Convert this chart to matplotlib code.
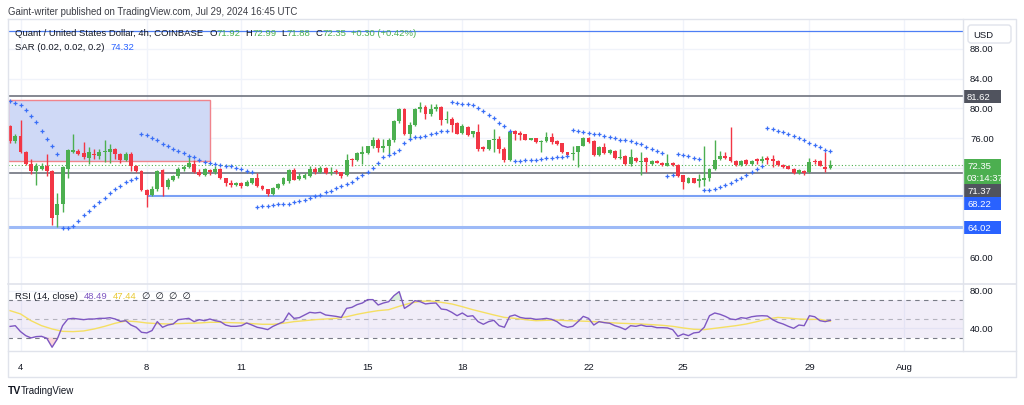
import numpy as np
import matplotlib.pyplot as plt
from matplotlib.patches import Rectangle, FancyBboxPatch

plt.rcParams['font.family'] = ['Liberation Sans', 'DejaVu Sans']

W, H = 1024, 406
GREEN = '#4caf50'
RED = '#f23645'
BLUE = '#2962ff'
DARK = '#131722'
GRID = '#f0f3fa'
FRAME = '#e0e3eb'

# 4h candles, index 0 = Jul 3 16:00 UTC, last = Jul 29 16:00 UTC
opens = [77.6, 75.6, 76.3, 74.2, 72.5, 71.6, 71.9, 72.2, 71.6, 65.6,
         67.1, 71.8, 74.1, 74.3, 74.0, 73.3, 73.9, 73.6, 74.1, 74.1,
         74.6, 73.9, 73.1, 73.8, 72.2, 71.6, 69.0, 68.4, 69.2, 71.7,
         69.4, 70.4, 70.9, 71.8, 72.1, 72.5, 71.5, 71.1, 71.7, 71.4,
         71.8, 70.6, 69.9, 69.7, 69.9, 69.6, 69.9, 70.6, 69.5, 69.1,
         68.5, 69.3, 69.8, 70.2, 71.7, 70.5, 70.6, 70.9, 71.9, 71.4,
         72.0, 71.3, 71.6, 71.4, 71.0, 73.2, 73.0, 73.9, 74.0, 74.9,
         75.7, 74.7, 74.9, 75.7, 78.3, 79.9, 76.6, 77.8, 79.9, 80.2,
         79.2, 79.9, 80.2, 78.4, 78.6, 78.0, 76.7, 77.5, 76.6, 76.8,
         74.8, 74.5, 75.7, 75.9, 74.6, 73.0, 76.9, 76.7, 76.5, 75.8,
         75.97, 75.5, 75.66, 76.1, 75.6, 75.3, 74.1, 73.9, 74.1, 75.0,
         76.0, 75.6, 73.7, 74.8, 74.0, 74.3, 73.3, 73.55, 72.5, 73.3,
         72.8, 73.3, 72.5, 72.9, 72.7, 72.3, 72.7, 72.4, 71.0, 70.0,
         70.6, 70.27, 70.3, 70.6, 71.84, 73.2, 73.6, 73.4, 72.9, 72.4,
         73.1, 72.5, 73.2, 72.96, 73.3, 73.2, 72.96, 72.4, 72.2, 71.9,
         71.3, 71.6, 71.4, 72.9, 72.96, 72.1, 71.92]
highs = [77.8, 76.5, 78.4, 74.3, 73.2, 72.6, 72.6, 73.9, 71.7, 68.6,
         72.3, 74.5, 76.6, 74.6, 75.5, 74.8, 74.6, 74.5, 75.7, 75.2,
         74.7, 74.0, 74.1, 74.2, 72.4, 71.7, 69.2, 69.5, 71.7, 71.8,
         70.6, 71.0, 72.1, 72.4, 73.6, 73.0, 71.8, 72.0, 71.9, 72.3,
         72.0, 70.7, 70.3, 70.1, 70.1, 70.3, 70.7, 71.3, 69.7, 69.2,
         69.4, 70.0, 70.8, 71.9, 72.0, 71.3, 71.3, 72.2, 72.1, 72.3,
         72.1, 72.1, 71.9, 71.5, 73.9, 73.3, 74.1, 75.0, 75.0, 76.1,
         76.0, 75.9, 76.0, 78.5, 80.1, 80.0, 78.2, 80.0, 80.8, 80.4,
         80.6, 80.6, 80.3, 79.6, 78.8, 78.2, 77.9, 77.6, 77.0, 77.9,
         75.0, 75.8, 77.2, 76.3, 74.8, 77.0, 77.1, 76.9, 76.6, 76.0,
         76.0, 75.7, 76.8, 76.7, 75.7, 75.4, 74.2, 75.0, 75.0, 76.1,
         76.1, 75.7, 74.9, 75.4, 74.5, 74.4, 74.5, 73.7, 74.5, 73.4,
         74.2, 73.4, 73.0, 73.0, 72.8, 73.8, 72.8, 72.5, 71.1, 70.8,
         70.7, 71.2, 74.9, 72.0, 75.8, 74.3, 74.1, 77.5, 73.0, 73.0,
         73.2, 73.0, 73.3, 73.6, 73.6, 73.7, 73.0, 72.5, 72.3, 72.0,
         71.8, 71.7, 73.3, 73.2, 73.0, 74.2, 72.99]
lows = [75.3, 75.4, 74.0, 72.4, 71.2, 69.7, 71.7, 70.9, 64.3, 64.02,
        66.0, 70.6, 74.0, 73.7, 73.2, 72.5, 73.2, 73.2, 72.8, 72.7,
        73.2, 72.6, 72.9, 71.6, 71.4, 68.9, 66.7, 68.2, 68.9, 68.25,
        69.1, 70.2, 70.6, 71.6, 72.0, 71.3, 70.9, 70.9, 71.0, 71.2,
        70.5, 69.6, 69.4, 69.6, 69.3, 69.5, 69.8, 69.4, 69.0, 68.2,
        68.4, 69.2, 69.7, 70.0, 70.3, 70.3, 70.5, 70.8, 71.2, 71.3,
        71.2, 71.0, 71.2, 70.7, 70.9, 72.2, 72.9, 72.5, 73.9, 74.7,
        74.1, 74.1, 73.9, 75.5, 78.0, 76.4, 75.9, 77.6, 79.5, 78.6,
        79.0, 79.7, 77.8, 78.0, 76.8, 76.5, 76.6, 76.3, 76.2, 74.3,
        74.3, 74.4, 74.1, 74.0, 72.8, 72.9, 75.8, 75.8, 75.7, 75.7,
        75.4, 74.2, 75.5, 75.2, 75.1, 74.0, 73.6, 73.0, 72.1, 74.9,
        75.4, 73.6, 73.6, 73.9, 73.9, 73.2, 73.2, 72.4, 72.3, 72.8,
        71.0, 71.4, 72.4, 72.6, 72.3, 72.2, 72.3, 70.8, 69.15, 69.9,
        69.9, 69.4, 69.5, 70.2, 71.7, 73.1, 73.2, 72.8, 72.3, 72.3,
        72.4, 72.4, 72.5, 72.7, 72.5, 72.1, 72.3, 72.0, 71.8, 71.2,
        71.2, 71.0, 71.3, 72.5, 72.2, 71.4, 71.88]
closes = [75.6, 76.3, 74.2, 72.5, 71.6, 72.2, 72.3, 71.6, 65.3, 67.1,
          72.1, 74.4, 74.4, 73.8, 73.4, 74.1, 73.7, 74.2, 74.3, 74.6,
          73.8, 73.1, 73.8, 72.2, 71.6, 69.0, 68.4, 69.2, 71.6, 69.4,
          70.4, 70.9, 71.8, 72.1, 72.6, 71.4, 71.1, 71.8, 71.4, 71.8,
          70.6, 69.9, 69.7, 69.9, 69.5, 70.1, 70.6, 69.5, 69.2, 68.5,
          69.3, 69.8, 70.6, 71.7, 70.4, 70.9, 71.0, 71.9, 71.4, 72.0,
          71.3, 71.5, 71.4, 70.9, 73.1, 73.0, 74.0, 74.1, 74.9, 75.7,
          74.7, 75.0, 75.8, 78.3, 79.9, 76.6, 77.8, 79.9, 80.2, 79.2,
          79.9, 80.2, 78.4, 78.6, 77.8, 76.6, 77.6, 76.4, 76.9, 74.5,
          74.6, 75.7, 75.9, 74.5, 73.0, 76.8, 76.6, 76.4, 75.8, 75.97,
          75.5, 75.66, 76.1, 75.5, 75.2, 74.1, 73.7, 74.05, 75.0, 76.0,
          75.5, 73.7, 74.8, 74.05, 74.4, 73.3, 73.4, 72.5, 73.4, 72.9,
          72.96, 72.8, 72.96, 72.7, 72.4, 72.6, 72.4, 70.9, 70.1, 70.7,
          70.0, 70.5, 70.6, 71.84, 73.1, 73.6, 73.3, 72.87, 72.4, 72.96,
          72.5, 72.96, 72.96, 73.2, 73.1, 72.96, 72.4, 72.1, 71.84, 71.3,
          71.7, 71.3, 72.8, 72.8, 72.3, 71.84, 72.35]

# parabolic SAR (0.02, 0.02, 0.2), one dot per candle
sar = [81.0, 80.7, 80.5, 79.8, 79.0, 78.2, 77.0, 75.9, 75.0, 73.9,
       63.9, 63.9, 64.2, 64.9, 65.6, 66.2, 66.8, 67.4, 68.0, 68.6,
       69.1, 69.6, 70.1, 70.4, 70.6, 76.6, 76.4, 76.0, 75.7, 75.2,
       74.9, 74.5, 74.3, 74.0, 73.6, 73.4, 73.1, 72.8, 72.65, 72.5,
       72.4, 72.3, 72.2, 72.0, 71.8, 71.6, 71.4, 66.7, 66.8, 66.9,
       67.0, 67.1, 67.15, 67.2, 67.4, 67.6, 67.7, 67.9, 68.2, 68.4,
       68.7, 68.9, 69.3, 69.5, 69.8, 70.1, 70.6, 71.0, 71.5, 72.0,
       72.7, 73.4, 73.7, 74.0, 74.4, 75.4, 75.9, 76.1, 76.1, 76.3,
       76.55, 76.7, 76.9, 77.0, 80.8, 80.7, 80.6, 80.6, 80.4, 80.0,
       79.7, 79.1, 78.7, 78.0, 77.6, 77.0, 72.9, 72.96, 73.05, 73.1,
       73.1, 73.2, 73.3, 73.3, 73.4, 73.5, 73.55, 77.1, 77.0, 76.8,
       76.7, 76.6, 76.5, 76.3, 76.2, 76.0, 75.8, 75.7, 75.6, 75.3,
       75.2, 74.85, 74.5, 74.3, 74.0, 70.9, 71.0, 73.9, 73.7, 73.55,
       73.3, 73.2, 69.0, 69.0, 69.15, 69.4, 69.7, 69.9, 70.3, 70.7,
       71.1, 71.5, 71.8, 72.2, 77.4, 77.2, 77.0, 76.8, 76.55, 76.3,
       76.0, 75.75, 75.4, 75.1, 74.8, 74.45, 74.32]

rsi = [42.0, 42.8, 36.5, 32.2, 29.8, 31.2, 31.5, 29.4, 19.9, 28.7,
       42.8, 49.9, 50.6, 49.9, 49.2, 49.9, 49.9, 50.6, 50.6, 51.3,
       49.9, 47.4, 48.1, 43.5, 41.1, 35.8, 35.1, 37.6, 47.1, 41.1,
       43.5, 44.6, 49.2, 49.9, 50.6, 47.1, 49.2, 48.1, 49.9, 48.1,
       47.1, 43.5, 42.1, 42.1, 42.8, 45.7, 43.5, 41.1, 40.0, 38.6,
       42.1, 44.6, 47.1, 56.3, 50.6, 51.3, 54.2, 57.0, 56.3, 57.0,
       54.2, 53.4, 52.7, 51.6, 61.2, 62.3, 65.2, 66.9, 70.5, 70.5,
       64.8, 66.9, 68.3, 74.7, 79.0, 61.2, 64.8, 69.4, 68.3, 65.9,
       66.6, 66.9, 60.5, 59.8, 57.0, 53.4, 56.3, 52.7, 53.4, 47.1,
       44.3, 47.1, 48.5, 42.8, 41.1, 52.7, 54.2, 51.6, 50.6, 50.6,
       49.5, 49.9, 50.6, 49.5, 47.1, 42.8, 41.1, 42.1, 47.1, 52.7,
       50.6, 43.5, 47.1, 46.0, 45.4, 42.8, 41.1, 38.6, 42.8, 42.1,
       43.5, 42.1, 42.1, 40.7, 40.7, 40.4, 38.6, 31.5, 34.0, 32.2,
       35.1, 35.8, 41.1, 53.4, 56.3, 54.9, 52.7, 49.9, 49.2, 51.3,
       50.6, 52.3, 53.1, 53.4, 53.1, 49.2, 46.4, 44.6, 42.1, 40.0,
       43.5, 42.8, 53.4, 52.3, 48.1, 47.1, 48.49]

# RSI moving average, read every second candle
rsi_ma_idx = list(range(0, 157, 2))
rsi_ma = [58.8, 55.3, 48.1, 42.8, 39.3, 36.8, 36.5, 37.2, 39.3, 42.1,
          45.4, 47.8, 47.1, 45.7, 45.0, 44.6, 45.0, 45.4, 45.7, 46.4,
          46.4, 46.0, 45.7, 45.0, 44.3, 44.3, 45.4, 47.1, 48.1, 49.2,
          49.9, 50.6, 52.3, 54.9, 57.0, 58.8, 59.8, 63.4, 66.6, 68.7,
          69.0, 67.6, 65.9, 63.0, 59.8, 57.0, 54.2, 51.6, 50.6, 49.2,
          48.1, 48.5, 48.8, 48.1, 47.8, 47.4, 46.8, 46.0, 45.4, 45.0,
          44.6, 43.9, 43.2, 42.1, 40.4, 39.0, 38.6, 40.0, 41.4, 42.8,
          44.6, 47.1, 49.9, 51.6, 50.9, 49.9, 49.5, 49.5, 47.44]

day_ticks = [2, 26, 44, 68, 86, 110, 128, 152, 170]
day_labels = ['4', '8', '11', '15', '18', '22', '25', '29', 'Aug']
price_ticks = [60, 64, 68, 72, 76, 80, 84, 88]
rsi_ticks = [40, 80]

zone_top, zone_bottom, zone_end = 81.13, 72.88, 38
gray_levels = [81.62, 71.37]
support_mid, support_mid_start = 68.22, 26
support_low = 64.02
top_level = 90.46
countdown = '03:14:37'

assert len(opens) == len(highs) == len(lows) == len(closes) == len(sar) == len(rsi) == 157
assert len(rsi_ma) == len(rsi_ma_idx)

fig = plt.figure(figsize=(W / 100, H / 100), dpi=100)
ax = fig.add_axes([8 / W, 1 - 285 / H, 955 / W, 265 / H])
rax = fig.add_axes([8 / W, 1 - 352 / H, 955 / W, 67 / H])
XMIN, XMAX = -0.38, 181.2
ax.set_xlim(XMIN, XMAX)
ax.set_ylim(56.37, 92.03)
rax.set_xlim(XMIN, XMAX)
rax.set_ylim(15.9, 87.1)
for a in (ax, rax):
    a.set_xticks([])
    a.set_yticks([])
    for s in a.spines.values():
        s.set_visible(False)
    for t in day_ticks:
        a.axvline(t, color=GRID, lw=1, zorder=0)
for p in price_ticks:
    ax.axhline(p, color=GRID, lw=1, zorder=0)
for p in rsi_ticks:
    rax.axhline(p, color=GRID, lw=1, zorder=0)

# main pane
x = np.arange(len(closes))
o = np.array(opens)
c = np.array(closes)
hi = np.array(highs)
lo = np.array(lows)
cols = np.where(c >= o, GREEN, RED)

ax.add_patch(Rectangle((XMIN, zone_bottom), zone_end - XMIN, zone_top - zone_bottom,
                       fc='#cfd9f6', ec='#f0848c', lw=1, zorder=1))
ax.axhline(top_level, color='#4d7ef5', lw=0.9, zorder=2)
for lvl in gray_levels:
    ax.axhline(lvl, color='#6f737e', lw=1.2, zorder=2)
ax.hlines(support_mid, support_mid_start, XMAX, color='#7aa0f5', lw=1.5, zorder=2)
ax.axhline(support_low, color='#9dbaf7', lw=2.2, zorder=2)
ax.axhline(closes[-1], color=GREEN, lw=0.8, ls=(0, (1, 2)), zorder=2)

ax.vlines(x, lo, hi, colors=cols, lw=1, zorder=3)
ax.bar(x, np.maximum(np.abs(c - o), 0.07), bottom=np.minimum(o, c), width=0.74,
       color=cols, lw=0, zorder=4)
ax.plot(x, sar, ls='none', marker='+', ms=2.4, mew=0.9, color='#3a6ff7', zorder=5)

# rsi pane
r = np.array(rsi, dtype=float)
rax.axhspan(30, 70, color='#7e57c2', alpha=0.1, lw=0, zorder=1)
for lvl, al in ((70, 1.0), (50, 0.5), (30, 1.0)):
    rax.axhline(lvl, color='#787b86', lw=0.8, ls=(0, (4, 4)), alpha=al, zorder=2)
rax.fill_between(x, r, 30, where=r < 30, interpolate=True, color=RED, alpha=0.2, lw=0)
rax.fill_between(x, r, 70, where=r > 70, interpolate=True, color=GREEN, alpha=0.2, lw=0)
rax.plot(rsi_ma_idx, rsi_ma, color='#f5df62', lw=1, zorder=3)
rax.plot(x, r, color='#7e57c2', lw=1, zorder=4)

# overlay in pixel coordinates for axis labels and frame
ov = fig.add_axes([0, 0, 1, 1], zorder=10)
ov.set_xlim(0, W)
ov.set_ylim(H, 0)
ov.axis('off')


def py(a, v):
    return H - a.transData.transform((0, v))[1]


def px(a, v):
    return a.transData.transform((v, 0))[0]


# frame
ov.plot([8, 1016, 1016, 8, 8], [20, 20, 378, 378, 20], color=FRAME, lw=1)
ov.plot([8, 1016], [285, 285], color=FRAME, lw=1.2)
ov.plot([8, 1016], [352, 352], color=FRAME, lw=1)
ov.plot([963, 963], [20, 352], color=FRAME, lw=1)

# price labels, stacked so they do not overlap
labels = [(gray_levels[0], '#50535e', [f'{gray_levels[0]:.2f}']),
          (closes[-1], GREEN, [f'{closes[-1]:.2f}', countdown]),
          (gray_levels[1], '#50535e', [f'{gray_levels[1]:.2f}']),
          (support_mid, BLUE, [f'{support_mid:.2f}']),
          (support_low, BLUE, [f'{support_low:.2f}'])]
prev_bottom = -1e9
boxes = []
for val, col, txt in sorted(labels, key=lambda t: -t[0]):
    top = max(py(ax, val) - 6.5, prev_bottom)
    h = 13 + 12 * (len(txt) - 1)
    ov.add_patch(Rectangle((963.5, top), 37, h, fc=col, ec='none'))
    for k, s in enumerate(txt):
        ov.text(967, top + 6.8 + 12 * k, s, color='white', fontsize=6.8,
                va='center', ha='left')
    boxes.append((top, top + h))
    prev_bottom = top + h

for p in price_ticks:
    yy = py(ax, p)
    if any(b0 - 4 < yy < b1 + 4 for b0, b1 in boxes):
        continue
    ov.text(970, yy, f'{p:.2f}', color=DARK, fontsize=6.8, va='center', ha='left')
for p in rsi_ticks:
    ov.text(970, py(rax, p), f'{p:.2f}', color=DARK, fontsize=6.8, va='center', ha='left')

ov.add_patch(FancyBboxPatch((968, 26), 43, 18, boxstyle='round,pad=0,rounding_size=3',
                            fc='white', ec=FRAME, lw=1))
ov.text(973, 35.5, 'USD', color=DARK, fontsize=6.8, va='center', ha='left')

for t, lab in zip(day_ticks, day_labels):
    ov.text(px(ax, t), 367.5, lab, color=DARK, fontsize=6.8, va='center', ha='center')

renderer = fig.canvas.get_renderer()


def text_run(x0, y0, parts, size):
    for s, col, gap in parts:
        t = ov.text(x0, y0, s, color=col, fontsize=size, va='center', ha='left')
        x0 += t.get_window_extent(renderer).width + gap


text_run(8, 12, [('Gaint-writer published on TradingView.com, Jul 29, 2024 16:45 UTC',
                  '#3b3d45', 0)], 6.9)
text_run(15, 33.5, [('Quant / United States Dollar, 4h, COINBASE', DARK, 6),
                    ('O', DARK, 0), (f'{opens[-1]:.2f}', GREEN, 5),
                    ('H', DARK, 0), (f'{highs[-1]:.2f}', GREEN, 5),
                    ('L', DARK, 0), (f'{lows[-1]:.2f}', GREEN, 5),
                    ('C', DARK, 0), (f'{closes[-1]:.2f}', GREEN, 5),
                    ('+0.30 (+0.42%)', GREEN, 0)], 6.8)
text_run(15, 47, [('SAR (0.02, 0.02, 0.2)', DARK, 6), (f'{sar[-1]:.2f}', BLUE, 0)], 6.8)
text_run(15, 297, [('RSI (14, close)', DARK, 6), (f'{rsi[-1]:.2f}', '#7e57c2', 5),
                   (f'{rsi_ma[-1]:.2f}', '#e8c832', 6),
                   ('\u2205  \u2205  \u2205  \u2205', DARK, 0)], 6.8)

ov.text(8, 391, 'TV', color=DARK, fontsize=7.5, fontweight='bold', va='center', ha='left')
ov.text(21, 391, 'TradingView', color=DARK, fontsize=7, va='center', ha='left')

fig.savefig('out.png', dpi=100)
